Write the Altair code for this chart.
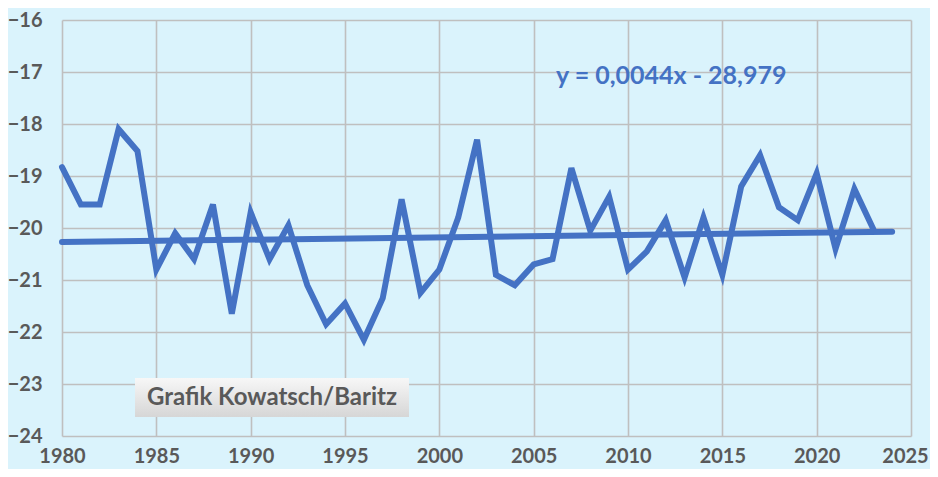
import altair as alt
import pandas as pd

years = list(range(1980, 2024))
values = [
    -18.83, -19.55, -19.55, -18.10, -18.52, -20.80, -20.10, -20.60, -19.55, -21.65,
    -19.70, -20.60, -19.95, -21.10, -21.85, -21.45, -22.15, -21.35, -19.45, -21.25,
    -20.80, -19.80, -18.30, -20.90, -21.10, -20.70, -20.60, -18.85, -20.05, -19.40,
    -20.80, -20.45, -19.85, -20.95, -19.80, -20.90, -19.20, -18.60, -19.60, -19.85,
    -18.95, -20.40, -19.25, -20.02,
]
trend_years = [1980, 2024]
trend_values = [-20.27, -20.07]
equation_text = "y = 0,0044x - 28,979"
credit_text = "Grafik Kowatsch/Baritz"

BG = "#DAF3FC"
LINE = "#4472C4"
LABEL = "#595959"
FONT = "Lato"

df = pd.DataFrame({"year": years, "value": values})
tdf = pd.DataFrame({"year": trend_years, "value": trend_values})

xscale = alt.Scale(domain=[1980, 2025], nice=False, zero=False)
yscale = alt.Scale(domain=[-24, -16], nice=False, zero=False)

xaxis = alt.Axis(values=list(range(1980, 2026, 5)), format="d", title=None,
                 grid=True, gridColor="#BFBFBF", gridWidth=1.6, domain=False, ticks=False,
                 labelFont=FONT, labelFontSize=20, labelFontWeight="bold", labelColor=LABEL,
                 labelPadding=10, labelFlush=False,
                 labelOffset=alt.expr("datum.value == 2025 ? -6 : 0"))
yaxis = alt.Axis(values=list(range(-24, -15)), format="d", title=None,
                 grid=True, gridColor="#BFBFBF", gridWidth=1.6, domain=False, ticks=False,
                 labelFont=FONT, labelFontSize=20, labelFontWeight="bold", labelColor=LABEL,
                 labelPadding=20, labelFlush=False)

base_line = alt.Chart(df).mark_line(color=LINE, strokeWidth=6, strokeCap="round",
                                    strokeJoin="miter").encode(
    x=alt.X("year:Q", scale=xscale, axis=xaxis),
    y=alt.Y("value:Q", scale=yscale, axis=yaxis),
)

trend = alt.Chart(tdf).mark_line(color=LINE, strokeWidth=6, strokeCap="round").encode(
    x=alt.X("year:Q", scale=xscale),
    y=alt.Y("value:Q", scale=yscale),
)

eq = alt.Chart(pd.DataFrame({"t": [equation_text]})).mark_text(
    align="left", baseline="middle", font=FONT, fontSize=25, fontWeight="bold", color=LINE
).encode(x=alt.value(494), y=alt.value(56), text="t:N")

box = alt.Chart(pd.DataFrame({"t": [credit_text]})).mark_rect(
    fill=alt.Gradient(gradient="linear", x1=0, y1=0, x2=0, y2=1,
                      stops=[alt.GradientStop(color="#F7F7F7", offset=0),
                             alt.GradientStop(color="#D6D6D6", offset=1)]),
).encode(x=alt.value(73), x2=alt.value(347), y=alt.value(358), y2=alt.value(397))

credit = alt.Chart(pd.DataFrame({"t": [credit_text]})).mark_text(
    align="center", baseline="middle", font=FONT, fontSize=24, fontWeight="bold", color=LABEL
).encode(x=alt.value(210), y=alt.value(378), text="t:N")

chart = alt.layer(base_line, trend, eq, box, credit).properties(
    width=849, height=416,
    autosize=alt.AutoSizeParams(type="none"),
    padding={"left": 54, "top": 12, "right": 19, "bottom": 33},
    background=BG,
).configure_view(stroke=None)

chart.save("out.html", embed_options={"renderer": "svg", "actions": False})
